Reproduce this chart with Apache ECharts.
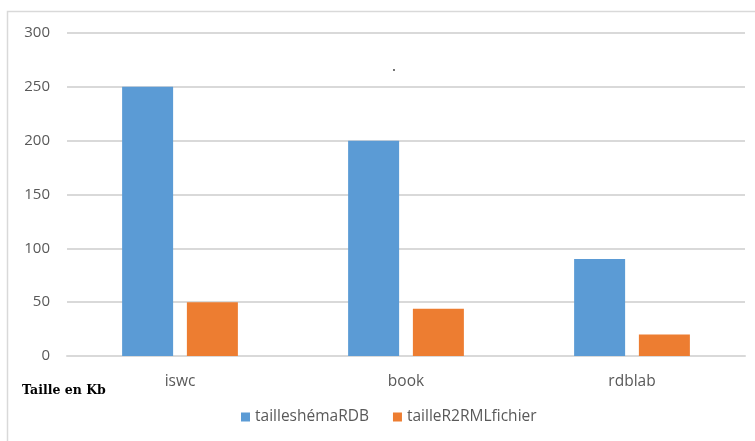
<!DOCTYPE html>
<html>
<head>
    <meta charset="utf-8">
    <script src="https://cdn.jsdelivr.net/npm/echarts@6/dist/echarts.min.js"></script>
    <style>
        html, body { margin: 0; padding: 0; background: #fff; }
        #chart { width: 755px; height: 441px; }
    </style>
</head>
<body>
<div id="chart"></div>
<script>
    // données
    var categories = ['iswc', 'book', 'rdblab'];
    var tailleShemaRDB = [250, 200, 90];
    var tailleR2RML = [50, 44, 20];
    var seriesNames = ['tailleshémaRDB', 'tailleR2RMLfichier'];

    var chart = echarts.init(document.getElementById('chart'));
    var option = {
        backgroundColor: '#ffffff',
        animation: false,
        textStyle: { fontFamily: 'Open Sans, sans-serif' },
        graphic: [
            {   // cadre du graphique
                type: 'rect',
                shape: { x: 7.5, y: 11.5, width: 900, height: 600 },
                style: { fill: 'none', stroke: '#d9d9d9', lineWidth: 1.5 },
                z: -1
            },
            {   // petit point isolé présent sur l'image
                type: 'circle',
                shape: { cx: 394, cy: 70, r: 0.9 },
                style: { fill: '#333' }
            },
            {
                type: 'text',
                left: 22, top: 384,
                style: {
                    text: 'Taille en Kb',
                    font: 'bold 12.5px "DejaVu Serif", serif',
                    fill: '#000'
                }
            }
        ],
        grid: { left: 67, right: 10, top: 33, bottom: 85, containLabel: false },
        legend: {
            data: seriesNames,
            bottom: 11,
            left: 236,
            itemWidth: 9,
            itemHeight: 9,
            itemGap: 24,
            icon: 'rect',
            textStyle: { color: '#595959', fontSize: 15.5 }
        },
        xAxis: {
            type: 'category',
            data: categories,
            axisLine: { lineStyle: { color: '#d9d9d9', width: 2 } },
            axisTick: { show: false },
            axisLabel: { color: '#595959', fontSize: 15.5, margin: 18 }
        },
        yAxis: {
            type: 'value',
            min: 0,
            max: 300,
            interval: 50,
            axisLine: { show: false },
            axisTick: { show: false },
            axisLabel: { color: '#595959', fontSize: 15, margin: 17 },
            splitLine: { lineStyle: { color: '#d9d9d9', width: 2 } }
        },
        series: [
            {
                name: seriesNames[0],
                type: 'bar',
                data: tailleShemaRDB,
                barWidth: 51,
                barGap: '27%',
                itemStyle: { color: '#5b9bd5' }
            },
            {
                name: seriesNames[1],
                type: 'bar',
                data: tailleR2RML,
                barWidth: 51,
                itemStyle: { color: '#ed7d31' }
            }
        ]
    };
    chart.setOption(option);
</script>
</body>
</html>
